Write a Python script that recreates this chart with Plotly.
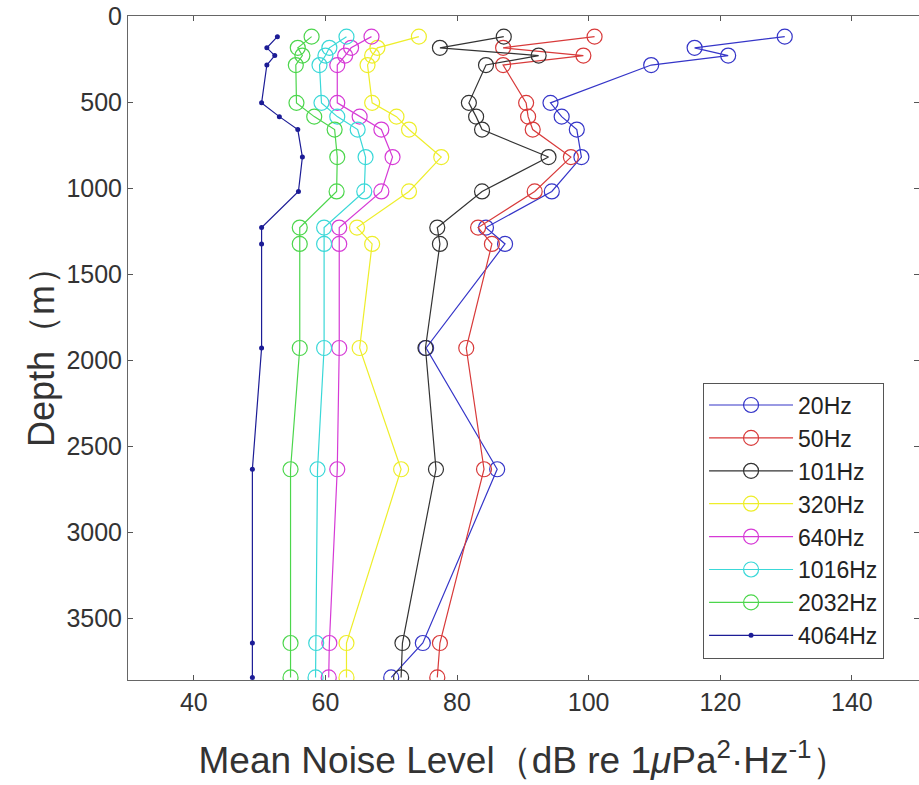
import plotly.graph_objects as go

depths = [120, 185, 230, 285, 505, 585, 660, 820, 1020, 1230, 1325, 1930, 2635, 3645, 3845]

labels = ["20Hz", "50Hz", "101Hz", "320Hz", "640Hz", "1016Hz", "2032Hz", "4064Hz"]

nl_20 = [129.8, 116.1, 121.2, 109.5, 94.2, 95.9, 98.2, 98.9, 94.4, 84.4, 87.3, 75.3, 86.1, 74.8, 70.0]
nl_50 = [100.9, 87.0, 99.2, 87.0, 90.5, 90.8, 91.5, 97.3, 91.8, 83.2, 85.3, 81.4, 84.1, 77.4, 77.0]
nl_101 = [87.1, 77.4, 92.4, 84.4, 81.8, 82.9, 83.8, 93.9, 83.8, 77.0, 77.4, 75.2, 76.8, 71.7, 71.5]
nl_320 = [74.2, 67.9, 67.1, 66.4, 67.1, 70.8, 72.7, 77.6, 72.7, 64.8, 67.1, 65.2, 71.5, 63.2, 63.2]
nl_640 = [67.0, 63.9, 63.0, 61.8, 61.8, 65.2, 68.5, 70.2, 68.5, 62.1, 62.1, 62.1, 61.8, 60.6, 60.5]
nl_1016 = [63.2, 60.6, 60.0, 59.1, 59.4, 61.8, 64.9, 66.1, 65.9, 59.8, 59.8, 59.8, 58.8, 58.6, 58.5]
nl_2032 = [57.9, 55.8, 56.5, 55.5, 55.6, 58.3, 61.4, 61.8, 61.7, 56.1, 56.1, 56.1, 54.7, 54.7, 54.7]
nl_4064 = [52.7, 51.1, 52.3, 51.1, 50.3, 53.0, 55.8, 56.5, 55.9, 50.3, 50.3, 50.3, 48.9, 48.9, 48.9]

series = [nl_20, nl_50, nl_101, nl_320, nl_640, nl_1016, nl_2032, nl_4064]
colors = ["#3535c8", "#d83a3a", "#333333", "#eeee2a", "#d63ad6", "#3ad8d8", "#4cd64c", "#1c1c96"]

fig = go.Figure()
for i, (name, vals, col) in enumerate(zip(labels, series, colors)):
    if name == "4064Hz":
        marker = dict(symbol="circle", size=5, color=col)
    else:
        marker = dict(symbol="circle-open", size=15, color=col, line=dict(width=1.2, color=col))
    fig.add_trace(go.Scatter(
        x=vals, y=depths, mode="lines+markers", name=name,
        line=dict(color=col, width=1.2), marker=marker,
        legendgroup=name,
    ))

font_family = "Liberation Sans, Arial, sans-serif"
fig.update_layout(
    width=919, height=785,
    margin=dict(l=128, r=0, t=16, b=105),
    paper_bgcolor="white", plot_bgcolor="white",
    font=dict(family=font_family, color="#333333", size=23),
    showlegend=True,
    legend=dict(
        x=0.727, y=0.448, xanchor="left", yanchor="top",
        bordercolor="#555555", borderwidth=1, bgcolor="white",
        font=dict(size=23, color="#222222"),
        tracegroupgap=0, itemwidth=84,
    ),
    xaxis=dict(
        range=[30, 150.2], tickvals=[40, 60, 80, 100, 120, 140],
        ticks="inside", ticklen=5, tickcolor="#555555",
        showline=True, linecolor="#666666", linewidth=1, mirror="ticks",
        showgrid=False, zeroline=False,
        tickfont=dict(size=25, color="#333333"),
        title=dict(text="Mean Noise Level（dB re 1<i>μ</i>Pa<sup>2</sup>·Hz<sup>-1</sup>）",
                   font=dict(size=37, color="#333333"), standoff=32),
    ),
    yaxis=dict(
        range=[3860, 0], tickvals=[0, 500, 1000, 1500, 2000, 2500, 3000, 3500],
        ticks="inside", ticklen=5, tickcolor="#555555",
        showline=True, linecolor="#666666", linewidth=1, mirror="ticks",
        showgrid=False, zeroline=False,
        tickfont=dict(size=25, color="#333333"),
        title=dict(text="Depth（m）", font=dict(size=36, color="#333333"), standoff=0),
    ),
)

fig.write_html("out.html")
